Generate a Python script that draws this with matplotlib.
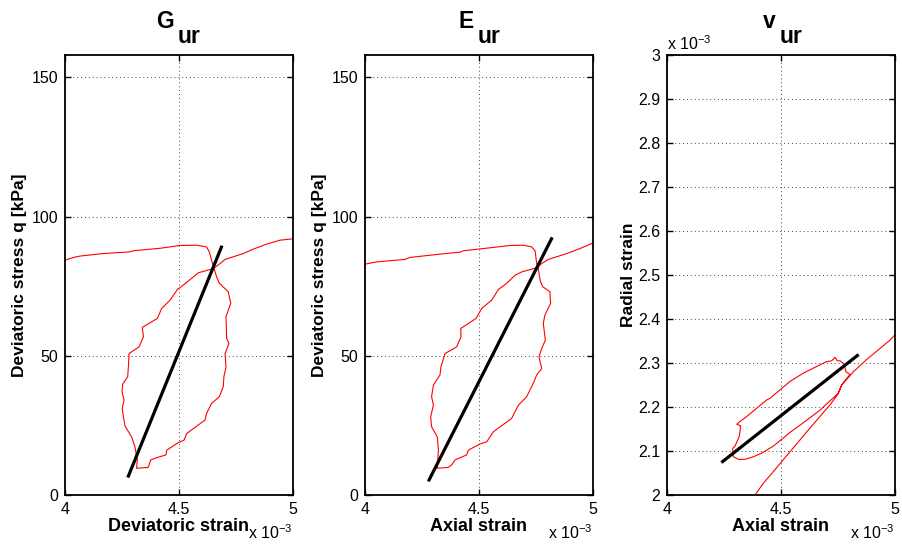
import numpy as np
import matplotlib
matplotlib.use("Agg")
import matplotlib.pyplot as plt

plt.rcParams['font.family'] = ['Liberation Sans', 'DejaVu Sans']
plt.rcParams['mathtext.fontset'] = 'custom'
plt.rcParams['mathtext.rm'] = 'Liberation Sans'
plt.rcParams['mathtext.bf'] = 'Liberation Sans:bold'

# strains in units of 1e-3, stress in kPa
g_strain = [4.000, 4.037, 4.066, 4.168, 4.285, 4.300, 4.417, 4.504, 4.578, 4.621,
            4.633, 4.643, 4.654, 4.665, 4.677, 4.716, 4.727, 4.706, 4.709, 4.719,
            4.702, 4.706, 4.697, 4.694, 4.677, 4.643, 4.621, 4.614, 4.534, 4.522,
            4.497, 4.446, 4.443, 4.402, 4.376, 4.365, 4.314, 4.317, 4.307, 4.292,
            4.263, 4.256, 4.251, 4.259, 4.250, 4.253, 4.275, 4.278, 4.281, 4.325,
            4.344, 4.339, 4.405, 4.424, 4.461, 4.493, 4.522, 4.563, 4.585, 4.651,
            4.680, 4.702, 4.782, 4.826, 4.885, 4.943, 5.000]
g_stress = [84.3, 85.3, 85.8, 86.7, 87.3, 87.7, 88.6, 89.6, 89.7, 89.1,
            87.3, 84.3, 81.3, 78.3, 76.0, 73.0, 68.8, 64.0, 56.2, 54.4,
            50.8, 46.0, 42.5, 38.9, 35.3, 32.9, 29.3, 26.9, 22.1, 19.7,
            18.8, 16.1, 14.4, 13.4, 12.6, 9.9, 9.6, 12.6, 17.3, 20.9,
            24.8, 28.1, 31.1, 34.1, 37.1, 39.8, 42.5, 46.0, 50.8, 53.2,
            56.8, 60.2, 63.4, 67.0, 70.0, 73.8, 75.6, 78.3, 79.8, 81.3,
            83.1, 84.6, 86.7, 88.3, 90.1, 91.5, 92.0]
g_fit_strain = [4.278, 4.686]
g_fit_stress = [6.8, 89.0]

e_strain = [4.000, 4.051, 4.175, 4.197, 4.329, 4.417, 4.431, 4.563, 4.636, 4.694,
            4.731, 4.746, 4.753, 4.760, 4.768, 4.779, 4.811, 4.814, 4.789, 4.782,
            4.791, 4.775, 4.763, 4.775, 4.753, 4.738, 4.709, 4.673, 4.658, 4.643,
            4.563, 4.534, 4.504, 4.453, 4.446, 4.395, 4.380, 4.365, 4.317, 4.322,
            4.317, 4.292, 4.288, 4.300, 4.292, 4.300, 4.329, 4.333, 4.351, 4.402,
            4.421, 4.420, 4.487, 4.512, 4.556, 4.585, 4.621, 4.658, 4.687, 4.753,
            4.775, 4.804, 4.885, 4.943, 5.000]
e_stress = [82.9, 83.7, 84.6, 85.3, 86.5, 87.2, 87.7, 88.9, 89.6, 89.7,
            89.1, 87.7, 83.1, 81.3, 77.1, 74.8, 73.0, 68.8, 64.6, 61.6,
            55.6, 52.6, 49.6, 45.4, 43.1, 40.1, 35.3, 32.3, 29.9, 27.5,
            22.7, 19.1, 18.3, 16.1, 14.4, 12.6, 10.8, 9.9, 9.6, 16.1,
            20.9, 24.5, 28.1, 32.3, 35.3, 39.5, 43.1, 46.0, 50.8, 53.2,
            56.8, 59.8, 63.4, 67.0, 70.0, 73.8, 76.0, 78.9, 80.1, 81.6,
            83.1, 84.6, 86.7, 88.5, 90.5]
e_fit_strain = [4.281, 4.818]
e_fit_stress = [5.4, 92.0]

v_axial = [4.386, 4.423, 4.466, 4.539, 4.627, 4.715, 4.751, 4.766, 4.785, 4.803,
           4.785, 4.776, 4.759, 4.747, 4.737, 4.722, 4.700, 4.656, 4.598, 4.539,
           4.496, 4.452, 4.437, 4.393, 4.349, 4.320, 4.306, 4.323, 4.317, 4.298,
           4.288, 4.291, 4.313, 4.342, 4.379, 4.415, 4.466, 4.539, 4.613, 4.671,
           4.715, 4.751, 4.766, 4.817, 4.876, 4.934, 4.978, 5.000]
v_radial = [2.000, 2.027, 2.053, 2.098, 2.152, 2.205, 2.230, 2.250, 2.263, 2.274,
            2.280, 2.298, 2.305, 2.305, 2.313, 2.305, 2.303, 2.292, 2.277, 2.258,
            2.239, 2.220, 2.216, 2.197, 2.178, 2.167, 2.161, 2.157, 2.133, 2.111,
            2.106, 2.087, 2.081, 2.081, 2.087, 2.095, 2.111, 2.142, 2.170, 2.193,
            2.214, 2.231, 2.250, 2.280, 2.308, 2.333, 2.352, 2.364]
v_fit_axial = [4.244, 4.835]
v_fit_radial = [2.076, 2.317]

fig = plt.figure(figsize=(9.03, 5.45), dpi=100)
ax1 = fig.add_axes([65/903, 50/545, 228/903, 440/545])
ax2 = fig.add_axes([365/903, 50/545, 228/903, 440/545])
ax3 = fig.add_axes([667/903, 50/545, 228/903, 440/545])

def style(ax):
    ax.set_xlim(4, 5)
    ax.set_xticks([4, 4.5, 5])
    ax.set_xticklabels(['4', '4.5', '5'])
    ax.grid(True, linestyle=(0, (1, 3)), color='#444444', linewidth=0.7)
    ax.tick_params(direction='in', top=True, right=True, labelsize=11.5,
                   length=4, width=1, pad=5)
    for sp in ax.spines.values():
        sp.set_linewidth(1.3)

def title(ax, main):
    ax.annotate(main, xy=(0.5, 1), xycoords='axes fraction', xytext=(-5, 27),
                textcoords='offset pixels', ha='right', va='baseline',
                fontsize=16.5, fontweight='bold')
    ax.annotate('ur', xy=(0.5, 1), xycoords='axes fraction', xytext=(-1, 12),
                textcoords='offset pixels', ha='left', va='baseline',
                fontsize=16.5, fontweight='bold')

for ax, x, y, fx, fy in [(ax1, g_strain, g_stress, g_fit_strain, g_fit_stress),
                         (ax2, e_strain, e_stress, e_fit_strain, e_fit_stress)]:
    ax.plot(x, y, color='red', linewidth=0.8)
    ax.plot(fx, fy, color='black', linewidth=2.3)
    style(ax)
    ax.set_ylim(0, 158)
    ax.set_yticks([0, 50, 100, 150])
    ax.set_ylabel('Deviatoric stress q [kPa]', fontsize=12.5, fontweight='bold', labelpad=3)

ax3.plot(v_axial, v_radial, color='red', linewidth=0.8)
ax3.plot(v_fit_axial, v_fit_radial, color='black', linewidth=2.3)
style(ax3)
ax3.set_ylim(2, 3)
ax3.set_yticks(np.arange(2, 3.01, 0.1))
ax3.set_yticklabels(['2', '2.1', '2.2', '2.3', '2.4', '2.5', '2.6', '2.7', '2.8', '2.9', '3'])
ax3.set_ylabel('Radial strain', fontsize=12.5, fontweight='bold', labelpad=1)
ax3.text(0.0, 1.005, r'x 10$^{-3}$', transform=ax3.transAxes, fontsize=11.5, ha='left', va='bottom')

ax1.set_xlabel('Deviatoric strain', fontsize=13, fontweight='bold')
ax2.set_xlabel('Axial strain', fontsize=13, fontweight='bold')
ax3.set_xlabel('Axial strain', fontsize=13, fontweight='bold')
for ax in (ax1, ax2, ax3):
    ax.xaxis.set_label_coords(0.5, -0.053)
    ax.text(1.0, -0.086, r'x 10$^{-3}$', transform=ax.transAxes, fontsize=11.5,
            ha='right', va='center')

title(ax1, 'G')
title(ax2, 'E')
title(ax3, 'v')

fig.savefig('out.png', dpi=100)
